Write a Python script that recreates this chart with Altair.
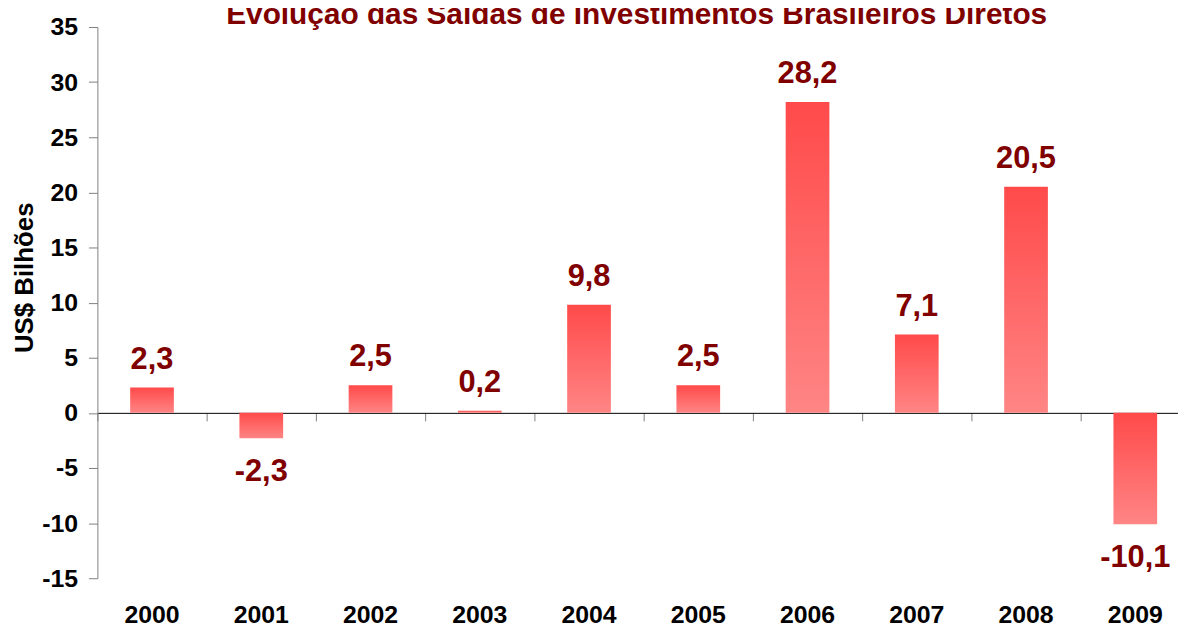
import altair as alt
import pandas as pd

anos = ["2000", "2001", "2002", "2003", "2004", "2005", "2006", "2007", "2008", "2009"]
valores = [2.3, -2.3, 2.5, 0.2, 9.8, 2.5, 28.2, 7.1, 20.5, -10.1]
y_ticks = [-15, -10, -5, 0, 5, 10, 15, 20, 25, 30, 35]
titulo = "Evolução das Saídas de Investimentos Brasileiros Diretos"
titulo_y = "US$ Bilhões"

df = pd.DataFrame({
    "ano": anos,
    "valor": valores,
    "rotulo": [f"{v:.1f}".replace(".", ",") for v in valores],
})

FONT = "Liberation Sans"
DARK_RED = "#800000"

x_scale = alt.Scale(domain=anos, range=[0, 1100], paddingInner=0, paddingOuter=0)
y_scale = alt.Scale(domain=[-15, 35], nice=False, zero=False)

y_enc = alt.Y(
    "valor:Q",
    scale=y_scale,
    axis=alt.Axis(
        values=y_ticks,
        labelExpr="datum.value + ''",
        grid=False,
        domainColor="#808080",
        tickColor="#808080",
        tickSize=9,
        labelPadding=11,
        labelFontSize=25,
        labelFont=FONT,
        labelFontWeight="bold",
        labelColor="black",
        title=titulo_y,
        titleFont=FONT,
        titleFontSize=26,
        titleFontWeight="bold",
        titleColor="black",
        titleAngle=-90,
        titleX=-73,
        titleY=252,
        titleAlign="center",
        titleBaseline="middle",
    ),
)

gradient = alt.Gradient(
    gradient="linear",
    stops=[
        alt.GradientStop(color="#FF4A4A", offset=0),
        alt.GradientStop(color="#FF8585", offset=1),
    ],
    x1=0, x2=0, y1=0, y2=1,
)

bars = alt.Chart(df).mark_bar(size=44, color=gradient).encode(
    x=alt.X(
        "ano:N",
        scale=x_scale,
        sort=anos,
        axis=alt.Axis(
            orient="bottom",
            offset=-166.5,
            labels=False,
            title=None,
            grid=False,
            domainColor="#000000",
            domainWidth=1,
            tickColor="#808080",
            tickSize=8,
            bandPosition=0,
        ),
    ),
    y=y_enc,
    y2=alt.datum(0),
)

pos_text = alt.Chart(df).transform_filter("datum.valor >= 0").mark_text(
    font=FONT, fontSize=31, fontWeight="bold", color=DARK_RED,
    baseline="alphabetic", dy=-19,
).encode(
    x=alt.X(
        "ano:N",
        scale=x_scale,
        sort=anos,
        axis=alt.Axis(
            orient="bottom",
            domain=False,
            ticks=False,
            tickSize=0,
            labelPadding=25,
            labelAngle=0,
            labelFont=FONT,
            labelFontSize=25,
            labelFontWeight="bold",
            labelColor="black",
            title=None,
            grid=False,
        ),
    ),
    y=y_enc,
    text="rotulo:N",
)

neg_text = alt.Chart(df).transform_filter("datum.valor < 0").mark_text(
    font=FONT, fontSize=31, fontWeight="bold", color=DARK_RED,
    baseline="top", dy=19,
).encode(
    x=alt.X("ano:N", scale=x_scale, sort=anos, axis=None),
    y=y_enc,
    text="rotulo:N",
)

title_layer = alt.Chart(pd.DataFrame({"t": [titulo]})).mark_text(
    font=FONT, fontSize=30, fontWeight="bold", color=DARK_RED,
    baseline="alphabetic", align="center",
).encode(
    x=alt.value(543),
    y=alt.value(-3),
    text="t:N",
)

chart = alt.layer(bars, pos_text, neg_text, title_layer).resolve_axis(x="independent").properties(
    width=1088,
    height=555,
    padding={"left": 90, "top": 17, "right": 0, "bottom": 49},
    autosize=alt.AutoSizeParams(type="none"),
    background="white",
).configure_view(strokeWidth=0, stroke="transparent")

chart.save("out.html", embed_options={"renderer": "svg", "actions": False})
